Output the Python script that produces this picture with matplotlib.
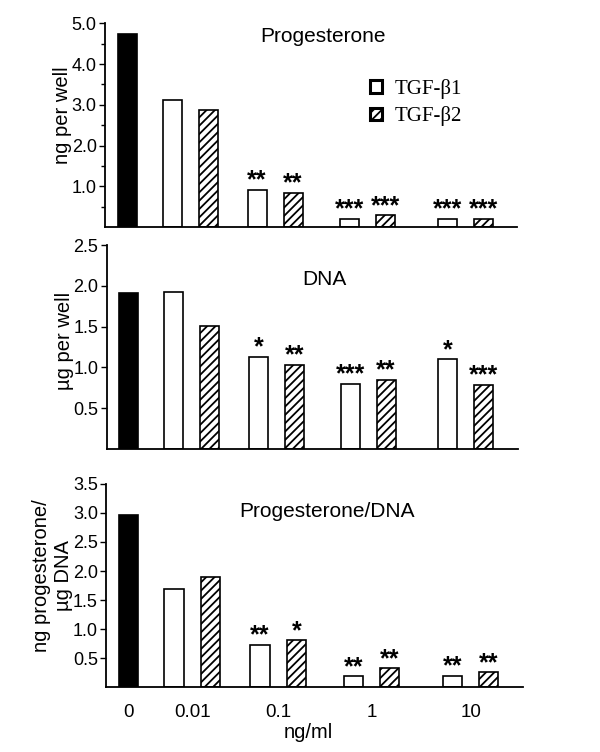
import numpy as np
import matplotlib
matplotlib.use('Agg')
import matplotlib.pyplot as plt
from matplotlib.patches import Patch

plt.rcParams['font.family'] = ['Liberation Sans', 'DejaVu Sans']
plt.rcParams['hatch.linewidth'] = 1.3

doses = ['0', '0.01', '0.1', '1', '10']

# control (0 ng/ml) values
prog_ctrl = 4.75
dna_ctrl = 1.91
ratio_ctrl = 2.96

# TGF-b1 / TGF-b2 at 0.01, 0.1, 1, 10 ng/ml
prog_b1 = [3.11, 0.92, 0.21, 0.21]
prog_b2 = [2.87, 0.84, 0.29, 0.21]
dna_b1 = [1.93, 1.13, 0.80, 1.10]
dna_b2 = [1.51, 1.03, 0.85, 0.79]
ratio_b1 = [1.69, 0.73, 0.19, 0.20]
ratio_b2 = [1.90, 0.81, 0.33, 0.26]

prog_sig_b1 = ['', '**', '***', '***']
prog_sig_b2 = ['', '**', '***', '***']
dna_sig_b1 = ['', '*', '***', '*']
dna_sig_b2 = ['', '**', '**', '***']
ratio_sig_b1 = ['', '**', '**', '**']
ratio_sig_b2 = ['', '*', '**', '**']

# layout
group_x = np.array([2.2, 8.5, 17.0, 26.2, 36.0])
bw = 1.9
off = 1.8

fig = plt.figure(figsize=(6, 7.52), dpi=100)

panels = [
    dict(rect=[0.175, 0.698, 0.687, 0.271], ctrl=prog_ctrl, b1=prog_b1, b2=prog_b2,
         s1=prog_sig_b1, s2=prog_sig_b2, ymax=5.0, major=1.0, minor=0.5,
         title='Progesterone', ty=0.935, ylabel='ng per well', ly=0.55),
    dict(rect=[0.178, 0.403, 0.685, 0.271], ctrl=dna_ctrl, b1=dna_b1, b2=dna_b2,
         s1=dna_sig_b1, s2=dna_sig_b2, ymax=2.5, major=0.5, minor=None,
         title='DNA', ty=0.83, ylabel='µg per well', ly=0.53),
    dict(rect=[0.177, 0.0858, 0.695, 0.271], ctrl=ratio_ctrl, b1=ratio_b1, b2=ratio_b2,
         s1=ratio_sig_b1, s2=ratio_sig_b2, ymax=3.5, major=0.5, minor=None,
         title='Progesterone/DNA', ty=0.865, ylabel='ng progesterone/\nµg DNA', ly=0.55),
]

axes = []
for i, p in enumerate(panels):
    ax = fig.add_axes(p['rect'])
    axes.append(ax)
    ax.bar(group_x[0], p['ctrl'], bw, color='black', edgecolor='black', lw=1.2)
    xb1 = group_x[1:] - off
    xb2 = group_x[1:] + off
    ax.bar(xb1, p['b1'], bw, color='white', edgecolor='black', lw=1.2)
    ax.bar(xb2, p['b2'], bw, color='white', edgecolor='black', lw=1.2, hatch='////')
    for xs, vs, ss in [(xb1, p['b1'], p['s1']), (xb2, p['b2'], p['s2'])]:
        for x, v, s in zip(xs, vs, ss):
            if s:
                ax.annotate(s, (x, v), xytext=(0, -2), textcoords='offset points',
                            ha='center', va='bottom', fontsize=18, fontweight='bold')
    ax.set_xlim(0, 41.2)
    ax.set_ylim(0, p['ymax'])
    ticks = np.arange(p['major'], p['ymax'] + 1e-9, p['major'])
    ax.set_yticks(ticks)
    ax.set_yticklabels(['%.1f' % t for t in ticks], fontsize=13)
    if p['minor']:
        ax.set_yticks(np.arange(p['minor'], p['ymax'], p['minor']), minor=True)
        ax.tick_params(axis='y', which='minor', length=3, width=1.0)
    ax.tick_params(axis='y', which='major', length=4, width=1.0, pad=2)
    for sp in ['top', 'right']:
        ax.spines[sp].set_visible(False)
    ax.spines['left'].set_linewidth(1.3)
    ax.spines['bottom'].set_linewidth(1.3)
    ax.set_ylabel(p['ylabel'], fontsize=14.5)
    ax.yaxis.set_label_coords(-0.08, p['ly'])
    ax.text(0.53, p['ty'], p['title'], transform=ax.transAxes,
            ha='center', va='center', fontsize=15)
    if i < 2:
        ax.set_xticks([])
    else:
        ax.set_xticks(group_x)
        ax.set_xticklabels(doses, fontsize=13.5)
        ax.tick_params(axis='x', length=0, pad=12)
        ax.set_xlabel('ng/ml', fontsize=14.5, labelpad=0)
        ax.xaxis.set_label_coords(0.485, -0.175)

handles = [Patch(facecolor='white', edgecolor='black', lw=2.2),
           Patch(facecolor='white', edgecolor='black', lw=2.2, hatch='////')]
fig.legend(handles, ['TGF-β1', 'TGF-β2'], loc='upper left',
           bbox_to_anchor=(0.586, 0.92), frameon=False,
           prop={'family': 'Liberation Serif', 'size': 15},
           handlelength=0.55, handleheight=0.55, handletextpad=0.6, labelspacing=0.35)

fig.savefig('out.png', dpi=100)
